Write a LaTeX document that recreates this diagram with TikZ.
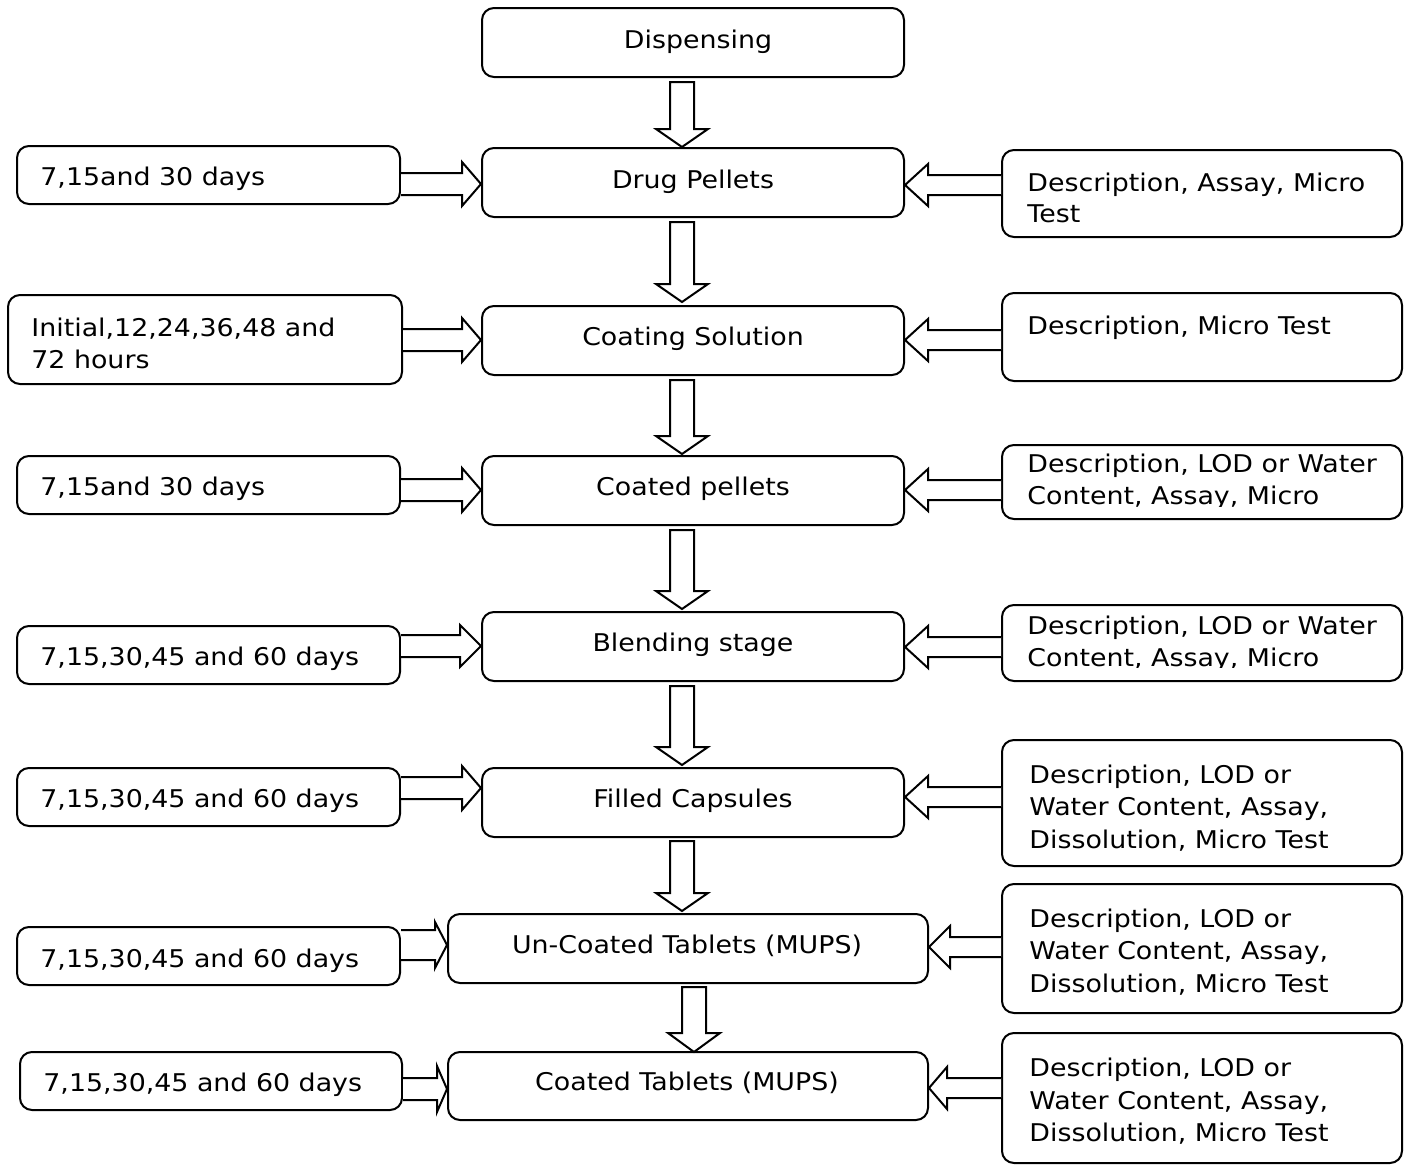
\documentclass[tikz,border=0pt]{standalone}
\usepackage{fontspec}
\setmainfont{DejaVu Sans}[FakeStretch=1.1]
\usetikzlibrary{fit,calc}
\tikzset{
  box/.style={draw, line width=1pt, rounded corners=6pt, inner sep=0pt},
  lbl/.style={inner sep=0pt, anchor=base west, font=\fontsize{12.2}{16}\selectfont},
  clbl/.style={inner sep=0pt, anchor=base, font=\fontsize{12.2}{16}\selectfont},
  arr/.style={draw, line width=1pt, fill=white, line join=miter},
}
% horizontal block arrow: #1 start anchor, #2 tip anchor, #3 y centre, #4 head base x, #5 shaft half, #6 head half
\newcommand\harr[6]{%
  \draw[arr] ($(#1|-0,#3)+(0,-#5)$) -- (#4,#3-#5) -- (#4,#3-#6) -- (#2|-0,#3) -- (#4,#3+#6) -- (#4,#3+#5) -- ($(#1|-0,#3)+(0,#5)$);}
% vertical block arrow: #1 x centre, #2 top, #3 head base, #4 tip, #5 shaft half, #6 head half
\newcommand\varr[6]{%
  \draw[arr] (#1-#5,#2) -- (#1+#5,#2) -- (#1+#5,#3) -- (#1+#6,#3) -- (#1,#4) -- (#1-#6,#3) -- (#1-#5,#3) -- cycle;}
\begin{document}
\begin{tikzpicture}[x=0.5pt, y=-0.5pt]
\useasboundingbox[fill=white] (0,0) rectangle (1410,1167);
% centre column
\node[box, fit={(482,8) (904,77)}] (disp) {};
\node[box, fit={(482,148) (904,217)}] (drug) {};
\node[box, fit={(482,306) (904,375)}] (coat) {};
\node[box, fit={(482,456) (904,525)}] (cpel) {};
\node[box, fit={(482,612) (904,681)}] (blend) {};
\node[box, fit={(482,768) (904,837)}] (caps) {};
\node[box, fit={(448,914) (928,983)}] (utab) {};
\node[box, fit={(448,1052) (928,1120)}] (ctab) {};
\node[clbl] (tdisp) at (698,48) {Dispensing};
\node[clbl] (tdrug) at (693,188) {Drug Pellets};
\node[clbl] (tcoat) at (693,345) {Coating Solution};
\node[clbl] (tcpel) at (693,495) {Coated pellets};
\node[clbl] (tblend) at (693,651) {Blending stage};
\node[clbl] (tcaps) at (693,807) {Filled Capsules};
\node[clbl] (tutab) at (687,953) {Un-Coated Tablets (MUPS)};
\node[clbl] (tctab) at (687,1090) {Coated Tablets (MUPS)};
% left column
\node[box, fit={(17,146) (400,204)}] (l1) {};
\node[box, fit={(8,295) (402,384)}] (l2) {};
\node[box, fit={(17,456) (400,514)}] (l3) {};
\node[box, fit={(17,626) (400,684)}] (l4) {};
\node[box, fit={(17,768) (400,826)}] (l5) {};
\node[box, fit={(17,927) (400,985)}] (l6) {};
\node[box, fit={(20,1052) (402,1110)}] (l7) {};
\node[lbl] (tl1) at (40,185) {7,15and 30 days};
\node[lbl] (tl2a) at (31,336) {Initial,12,24,36,48 and};
\node[lbl] (tl2b) at (31,368) {72 hours};
\node[lbl] (tl3) at (40,495) {7,15and 30 days};
\node[lbl] (tl4) at (40,665) {7,15,30,45 and 60 days};
\node[lbl] (tl5) at (40,807) {7,15,30,45 and 60 days};
\node[lbl] (tl6) at (40,967) {7,15,30,45 and 60 days};
\node[lbl] (tl7) at (43,1091) {7,15,30,45 and 60 days};
% right column
\node[box, fit={(1002,150) (1402,237)}] (r1) {};
\node[box, fit={(1002,293) (1402,381)}] (r2) {};
\node[box, fit={(1002,445) (1402,519)}] (r3) {};
\node[box, fit={(1002,605) (1402,681)}] (r4) {};
\node[box, fit={(1002,740) (1402,866)}] (r5) {};
\node[box, fit={(1002,884) (1402,1013)}] (r6) {};
\node[box, fit={(1002,1033) (1402,1163)}] (r7) {};
\node[lbl] (tr1a) at (1027,191) {Description, Assay, Micro};
\node[lbl] (tr1b) at (1027,222) {Test};
\node[lbl] (tr2) at (1027,334) {Description, Micro Test};
\begin{scope}
\clip (1005,448) rectangle (1399,506);
\node[lbl] (tr3a) at (1027,472) {Description, LOD or Water};
\node[lbl] (tr3b) at (1027,504) {Content, Assay, Micro};
\end{scope}
\begin{scope}
\clip (1005,608) rectangle (1399,667);
\node[lbl] (tr4a) at (1027,634) {Description, LOD or Water};
\node[lbl] (tr4b) at (1027,666) {Content, Assay, Micro};
\end{scope}
\node[lbl] (tr5a) at (1029,783) {Description, LOD or};
\node[lbl] (tr5b) at (1029,815) {Water Content, Assay,};
\node[lbl] (tr5c) at (1029,848) {Dissolution, Micro Test};
\node[lbl] (tr6a) at (1029,927) {Description, LOD or};
\node[lbl] (tr6b) at (1029,959) {Water Content, Assay,};
\node[lbl] (tr6c) at (1029,992) {Dissolution, Micro Test};
\node[lbl] (tr7a) at (1029,1076) {Description, LOD or};
\node[lbl] (tr7b) at (1029,1109) {Water Content, Assay,};
\node[lbl] (tr7c) at (1029,1141) {Dissolution, Micro Test};
% down arrows
\varr{682}{82}{129}{147}{12}{26}
\varr{682}{222}{284}{302}{12}{26}
\varr{682}{380}{436}{454}{12}{26}
\varr{682}{530}{591}{609}{12}{26}
\varr{682}{686}{747}{765}{12}{26}
\varr{682}{841}{893}{911}{12}{26}
\varr{694}{987}{1033}{1052}{12}{26}
% left-to-centre arrows
\harr{l1.east}{drug.west}{184}{462}{11}{22}
\harr{l2.east}{coat.west}{340}{462}{11}{22}
\harr{l3.east}{cpel.west}{490}{462}{11}{22}
\harr{l4.east}{blend.west}{646}{460}{11}{21}
\harr{l5.east}{caps.west}{788}{462}{11}{22}
\harr{l6.east}{utab.west}{945}{435}{15}{23}
\harr{l7.east}{ctab.west}{1089}{437}{11}{23}
% right-to-centre arrows
\harr{r1.west}{drug.east}{185}{928}{10}{21}
\harr{r2.west}{coat.east}{340}{928}{10}{21}
\harr{r3.west}{cpel.east}{490}{928}{10}{21}
\harr{r4.west}{blend.east}{647}{928}{10}{21}
\harr{r5.west}{caps.east}{797}{928}{10}{21}
\harr{r6.west}{utab.east}{947}{950}{10}{21}
\harr{r7.west}{ctab.east}{1088}{947}{10}{21}
\end{tikzpicture}
\end{document}
